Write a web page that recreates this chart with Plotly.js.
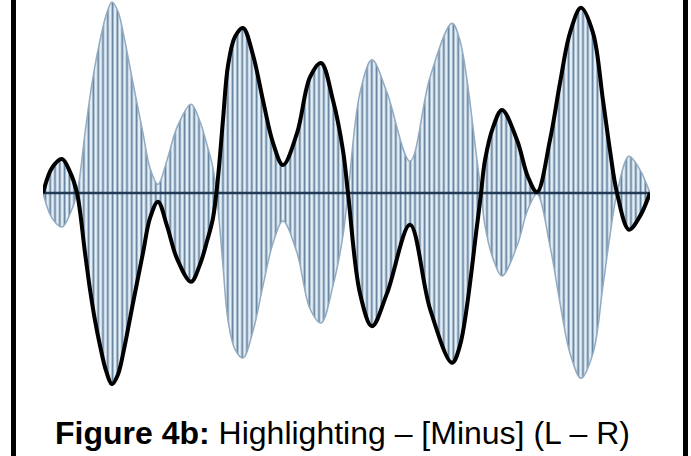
<!DOCTYPE html>
<html>
<head>
<meta charset="utf-8">
<script src="https://cdn.plot.ly/plotly-3.0.1.min.js"></script>
<style>html,body{margin:0;padding:0;background:#fff;}#chart{width:691px;height:456px;}</style>
</head>
<body>
<div id="chart"></div>
<script>
// time samples (arbitrary units) and the L−R signal amplitude
var timeSamples = [0, 9, 19, 27, 34, 42, 47, 52, 57, 63, 69, 75, 81, 90, 100, 107, 115, 124, 134, 148, 157, 164, 170, 175, 180, 185, 192, 200, 210, 220, 230, 240, 254, 267, 278, 290, 300, 305, 317, 329, 344, 367, 387, 409, 417, 434, 438, 442, 450, 459, 474, 485, 494, 507, 517, 527, 538, 550, 560, 567, 574, 586, 597, 607];
var lMinusR = [0, 0.13, 0.176, 0.109, 0, -0.31, -0.5, -0.66, -0.79, -0.92, -0.99, -0.94, -0.81, -0.57, -0.31, -0.13, -0.045, -0.17, -0.34, -0.46, -0.37, -0.25, -0.13, 0.08, 0.38, 0.66, 0.81, 0.855, 0.715, 0.48, 0.26, 0.145, 0.31, 0.6, 0.674, 0.48, 0.22, 0, -0.52, -0.69, -0.52, -0.165, -0.6, -0.88, -0.79, -0.17, 0, 0.17, 0.34, 0.43, 0.275, 0.083, 0.005, 0.275, 0.57, 0.83, 0.96, 0.83, 0.48, 0.22, 0, -0.19, -0.12, 0];
var captionBold = "Figure 4b:";
var captionText = " Highlighting – [Minus] (L – R)";

// modulated subcarrier: its envelope is ±(L−R)
var lowerEnv = lMinusR.map(function (v) { return -v; });
var tFirst = timeSamples[0], tLast = timeSamples[timeSamples.length - 1];

var traces = [
  {
    x: timeSamples, y: lowerEnv, mode: 'lines', type: 'scatter',
    line: {color: '#93abc1', width: 1.5, shape: 'spline'},
    hoverinfo: 'skip'
  },
  {
    x: timeSamples, y: lMinusR, mode: 'lines', type: 'scatter',
    line: {color: '#93abc1', width: 1.5, shape: 'spline'},
    fill: 'tonexty', fillcolor: '#e1edf5',
    fillpattern: {shape: '|', size: 4.8, solidity: 0.38, fgcolor: '#62819d', bgcolor: '#e3eef6'},
    hoverinfo: 'skip'
  },
  {
    x: [tFirst, tLast], y: [0, 0], mode: 'lines', type: 'scatter',
    line: {color: '#213a55', width: 2.5},
    hoverinfo: 'skip'
  },
  {
    x: timeSamples, y: lMinusR, mode: 'lines', type: 'scatter',
    line: {color: '#000000', width: 4, shape: 'spline'},
    hoverinfo: 'skip'
  }
];

var layout = {
  width: 691, height: 456,
  margin: {l: 43, r: 41, t: 0, b: 70},
  paper_bgcolor: '#ffffff', plot_bgcolor: '#ffffff',
  showlegend: false,
  xaxis: {range: [tFirst, tLast], visible: false, fixedrange: true},
  yaxis: {range: [-1, 1], visible: false, fixedrange: true},
  shapes: [
    {type: 'rect', xref: 'paper', yref: 'paper', x0: -0.0527, x1: -0.0445, y0: -0.182, y1: 1.0, fillcolor: '#000', line: {width: 0}},
    {type: 'rect', xref: 'paper', yref: 'paper', x0: 1.0544, x1: 1.0626, y0: -0.182, y1: 1.0, fillcolor: '#000', line: {width: 0}}
  ],
  annotations: [{
    xref: 'paper', yref: 'paper', x: 0.494, y: -0.122, xanchor: 'center', yanchor: 'middle',
    text: '<b>' + captionBold + '</b>' + captionText, showarrow: false,
    font: {family: 'Liberation Sans, Arial, sans-serif', size: 32, color: '#000'}
  }]
};

Plotly.newPlot('chart', traces, layout, {displayModeBar: false, staticPlot: true});
</script>
</body>
</html>
